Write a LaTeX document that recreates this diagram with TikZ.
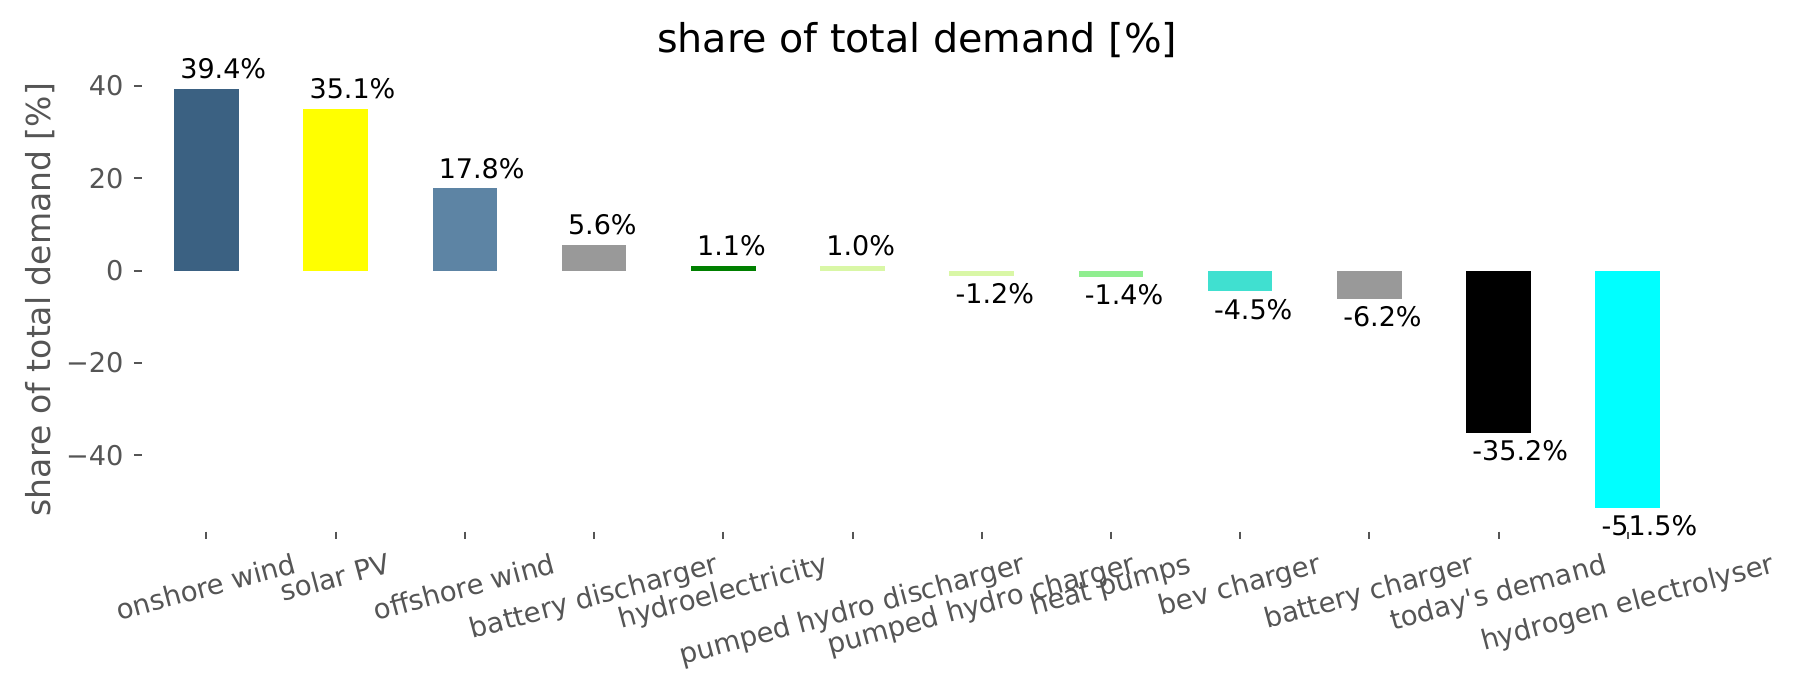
\documentclass[tikz,border=0pt]{standalone}
\usepackage{xcolor}
\usepackage{graphicx}
\usepackage{fontspec}
\setmainfont{DejaVu Sans}
\usepackage{tikz}
\usetikzlibrary{positioning,calc}

\definecolor{onwindcol}{HTML}{3B6182}
\definecolor{solarcol}{HTML}{FFFF00}
\definecolor{offwindcol}{HTML}{5D84A4}
\definecolor{batterycol}{HTML}{999999}
\definecolor{hydrocol}{HTML}{008000}
\definecolor{phscol}{HTML}{D9F7A6}
\definecolor{heatcol}{HTML}{90EE90}
\definecolor{bevcol}{HTML}{40E0D0}
\definecolor{h2col}{HTML}{00FFFF}
\definecolor{axisgray}{HTML}{555555}

\begin{document}
\begin{tikzpicture}[x=64.6pt, y=2.3065pt,
    val/.style={inner sep=0pt, anchor=base west, font=\fontsize{13.5}{16}\selectfont},
    ytick/.style={inner sep=0pt, anchor=east, text=axisgray, font=\fontsize{13.6}{16}\selectfont},
    xtick/.style={inner sep=0pt, anchor=north, text=axisgray, font=\fontsize{13.8}{16}\selectfont},
    tickmark/.style={draw=axisgray, line width=1pt}]
    \useasboundingbox (-1.598,-90.70) rectangle (12.310,58.66);

    % bars
    \fill[onwindcol] (-0.25,0) rectangle (0.25,39.4);
    \fill[solarcol] (0.75,0) rectangle (1.25,35.1);
    \fill[offwindcol] (1.75,0) rectangle (2.25,17.8);
    \fill[batterycol] (2.75,0) rectangle (3.25,5.6);
    \fill[hydrocol] (3.75,0) rectangle (4.25,1.1);
    \fill[phscol] (4.75,0) rectangle (5.25,1.0);
    \fill[phscol] (5.75,0) rectangle (6.25,-1.2);
    \fill[heatcol] (6.75,0) rectangle (7.25,-1.4);
    \fill[bevcol] (7.75,0) rectangle (8.25,-4.5);
    \fill[batterycol] (8.75,0) rectangle (9.25,-6.2);
    \fill[black] (9.75,0) rectangle (10.25,-35.2);
    \fill[h2col] (10.75,0) rectangle (11.25,-51.5);

    % values
    \node[val] (v0) at (-0.205,41.65) {39.4\%};
    \node[val] (v1) at (0.795,37.35) {35.1\%};
    \node[val] (v2) at (1.795,20.05) {17.8\%};
    \node[val] (v3) at (2.795,7.85) {5.6\%};
    \node[val] (v4) at (3.795,3.35) {1.1\%};
    \node[val] (v5) at (4.795,3.25) {1.0\%};
    \node[val] (v6) at (5.795,-7.2) {-1.2\%};
    \node[val] (v7) at (6.795,-7.4) {-1.4\%};
    \node[val] (v8) at (7.795,-10.5) {-4.5\%};
    \node[val] (v9) at (8.795,-12.2) {-6.2\%};
    \node[val] (v10) at (9.795,-41.2) {-35.2\%};
    \node[val] (v11) at (10.795,-57.5) {-51.5\%};

    % y axis
    \foreach \v/\t in {40/40, 20/20, 0/0, -20/−20, -40/−40} {
        \draw[tickmark] (-0.562,\v) -- (-0.5,\v);
        \node[ytick] (y\v) at (-0.639,\v) {\t};
    }
    \node[rotate=90, anchor=base, inner sep=0pt, text=axisgray,
        font=\fontsize{16.5}{20}\selectfont] (ylabel) at (-1.211,-6.3) {share of total demand [\%]};

    % x axis
    \foreach \t [count=\i from 0] in {onshore wind, solar PV, offshore wind,
        battery discharger, hydroelectricity, pumped hydro discharger,
        pumped hydro charger, heat pumps, bev charger, battery charger,
        today\textquotesingle s demand, hydrogen electrolyser} {
        \draw[tickmark] (\i,-56.6) -- (\i,-58.27);
        \node[xtick] (x\i) at (\i,-61.0) {\rotatebox{15}{\vphantom{lp}\t}};
    }

    \node[anchor=base, inner sep=0pt, font=\fontsize{19.8}{24}\selectfont] (title) at (5.5,47.2) {share of total demand [\%]};
\end{tikzpicture}
\end{document}
